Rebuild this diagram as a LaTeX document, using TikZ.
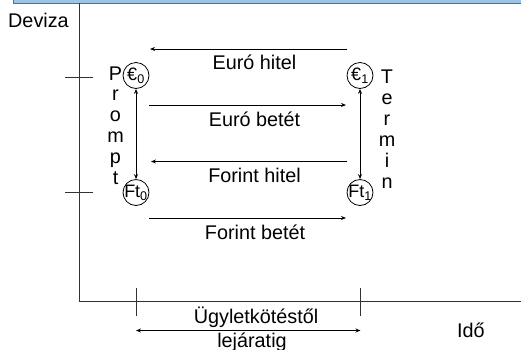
\documentclass[tikz,border=0pt]{standalone}
\usepackage{fontspec}
\setmainfont{Liberation Sans}
\usetikzlibrary{arrows.meta}
\definecolor{bandfill}{RGB}{157,195,230}
\definecolor{bandline}{RGB}{70,114,170}
\definecolor{axis}{RGB}{50,50,50}
\begin{document}
\begin{tikzpicture}[x=1pt,y=-1pt,
  font=\fontsize{19.8}{21}\selectfont,
  ln/.style={draw=axis, line width=1pt},
  arr/.style={draw=black, line width=0.9pt, -{Stealth[length=5pt,width=4pt]}},
  darr/.style={draw=black, line width=0.9pt, {Stealth[length=5pt,width=4pt]}-{Stealth[length=5pt,width=4pt]}},
  cur/.style={circle, draw=black, line width=0.8pt, minimum size=26pt, inner sep=-4pt, font=\fontsize{18}{19}\selectfont},
  lbl/.style={inner sep=0pt, anchor=base}]
\useasboundingbox (0,0) rectangle (521,349);
\clip (0,0) rectangle (521,349);
% top band
\draw[fill=bandfill, draw=bandline, line width=1pt] (13,-10) rectangle (540,3);
% axes
\coordinate (ytop) at (79,3);
\coordinate (O) at (79,301);
\coordinate (xend) at (521,301);
\draw[ln] (ytop) -- (O) -- (xend);
% ticks
\draw[ln] (65,77) -- (93,77);
\draw[ln] (65,192.5) -- (93,192.5);
\draw[ln] (136,288) -- (136,316);
\draw[ln] (360.5,288) -- (360.5,316);
% axis labels
\node[lbl, anchor=base west] (dev) at (8,27) {Deviza};
\node[lbl, anchor=base west] (ido) at (457,337) {Idő};
% currency circles
\node[cur] (e0) at (136,75.5) {€\textsubscript{0}};
\node[cur] (f0) at (136,192.5) {Ft\textsubscript{0}};
\node[cur] (e1) at (360,75.5) {€\textsubscript{1}};
\node[cur] (f1) at (360,192.5) {Ft\textsubscript{1}};
\draw[darr] (e0.south) -- (f0.north);
\draw[darr] (e1.south) -- (f1.north);
% horizontal flows
\coordinate (a1r) at (347,49);  \coordinate (a1l) at (150,49);
\coordinate (a2l) at (149,105); \coordinate (a2r) at (346,105);
\coordinate (a3r) at (347,161.5); \coordinate (a3l) at (151,161.5);
\coordinate (a4l) at (149,218); \coordinate (a4r) at (346,218);
\draw[arr] (a1r) -- (a1l);
\draw[arr] (a2l) -- (a2r);
\draw[arr] (a3r) -- (a3l);
\draw[arr] (a4l) -- (a4r);
\node[lbl] (t1) at (254.5,69) {Euró hitel};
\node[lbl] (t2) at (254.5,126) {Euró betét};
\node[lbl] (t3) at (254.5,182) {Forint hitel};
\node[lbl] (t4) at (255,239) {Forint betét};
% Prompt / Termin
\foreach \c [count=\i] in {P,r,o,m,p,t}
  \node[lbl] (p\i) at (115.5,{80+(\i-1)*20.9}) {\c};
\foreach \c [count=\i] in {T,e,r,m,i,n}
  \node[lbl] (m\i) at (387,{83+(\i-1)*21}) {\c};
% maturity span
\coordinate (s1) at (136,330.5);
\coordinate (s2) at (360.5,330.5);
\draw[darr] (s1) -- (s2);
\node[lbl] (u1) at (256,323) {Ügyletkötéstől};
\node[lbl] (u2) at (252,347) {lejáratig};
\end{tikzpicture}
\end{document}
